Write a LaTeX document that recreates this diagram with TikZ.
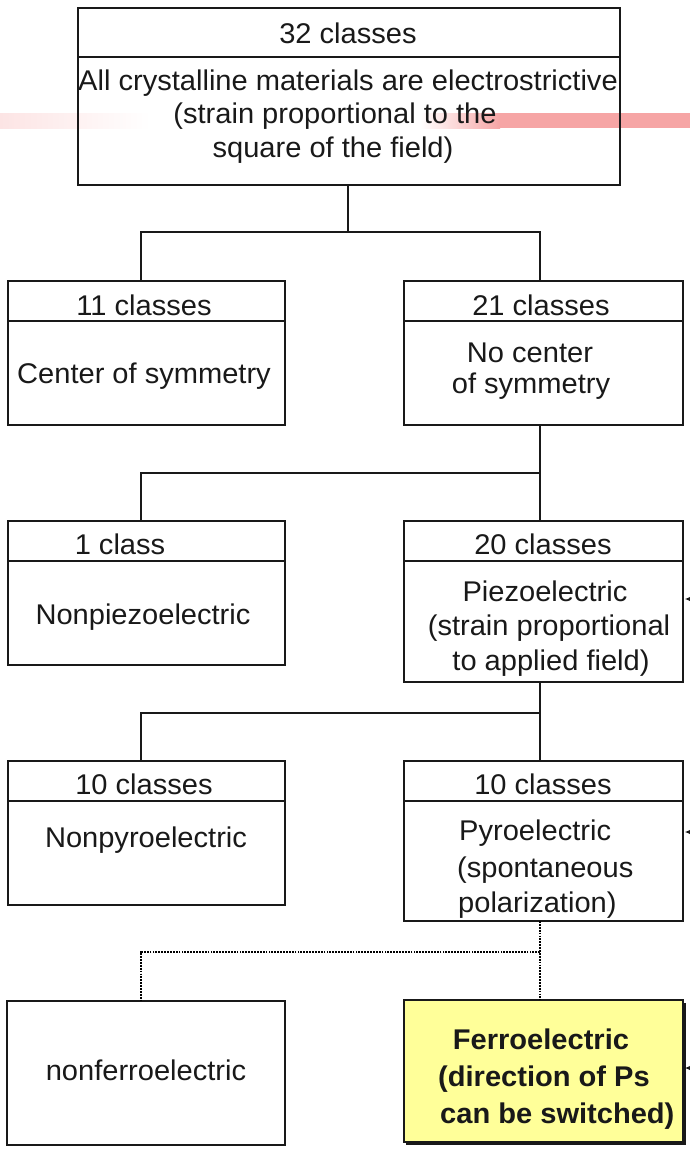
\documentclass[tikz,border=0pt]{standalone}
\usepackage{fontspec}
\setmainfont[FakeStretch=1.02]{Liberation Sans}
\usetikzlibrary{arrows.meta,calc}
\definecolor{bandpink}{RGB}{246,165,165}
\definecolor{ferro}{RGB}{255,255,153}
\definecolor{ink}{RGB}{25,25,25}
\begin{document}
\begin{tikzpicture}[x=1pt,y=-1pt,
  box/.style={draw=ink,line width=1.2pt,rectangle,inner sep=0pt,outer sep=0pt},
  txt/.style={anchor=base,inner sep=0pt,text=ink,font=\fontsize{28.5}{33}\selectfont},
  txtl/.style={txt,anchor=base west},
  btxt/.style={txt,font=\fontsize{28.5}{33}\selectfont\bfseries},
  btxtl/.style={btxt,anchor=base west},
  conn/.style={draw=ink,line width=1.3pt},
  dots/.style={draw=black,line width=1.9pt,dash pattern=on 1.8pt off 1.1pt},
  arr/.style={draw=ink,line width=1.2pt,-{Latex[length=9pt,width=9pt]}}]
\clip (0,0) rectangle (690,1152);
\fill[white] (0,0) rectangle (690,1152);
% pink band
\fill[left color=bandpink!30!white,right color=white] (0,113) rectangle (150,128);
\fill[left color=white,right color=bandpink] (420,113) rectangle (500,128);
\fill[bandpink] (499.5,113) rectangle (690,128);
% boxes
\node[box,minimum width=542pt,minimum height=177pt] (top) at (349,96.5) {};
\node[box,minimum width=277pt,minimum height=144pt] (b11) at (146.5,353) {};
\node[box,minimum width=279pt,minimum height=144pt] (b21) at (543.5,353) {};
\node[box,minimum width=277pt,minimum height=144pt] (b1) at (146.5,593) {};
\node[box,minimum width=279pt,minimum height=161pt] (b20) at (543.5,601.5) {};
\node[box,minimum width=277pt,minimum height=144pt] (b10l) at (146.5,833) {};
\node[box,minimum width=279pt,minimum height=160pt] (b10r) at (543.5,841) {};
\node[box,minimum width=278pt,minimum height=144pt] (bnf) at (146,1073) {};
\fill[ink] (406,1003) rectangle (685.5,1145);
\node[box,fill=ferro,line width=1.8pt,minimum width=279pt,minimum height=142pt] (bfe) at (543.5,1071) {};
% header dividers
\draw[conn,line width=1.2pt] ($(top.north west)+(0,49)$) -- ($(top.north east)+(0,49)$);
\foreach \b in {b11,b21,b1,b20,b10l,b10r}
  \draw[conn,line width=1.2pt] ($(\b.north west)+(0,40)$) -- ($(\b.north east)+(0,40)$);
% connector columns and junctions
\coordinate (cL) at (141,0);
\coordinate (cR) at (540,0);
\coordinate (j1) at (348,232);
\coordinate (j2) at (540,473);
\coordinate (j3) at (540,713);
\coordinate (j4) at (540,952);
\draw[conn] (top.south -| j1) -- (j1);
\draw[conn] (cL |- b11.north) -- (cL |- j1) -- (cR |- j1) -- (cR |- b21.north);
\draw[conn] (cR |- b21.south) -- (j2) -- (cR |- b20.north);
\draw[conn] (j2) -- (cL |- j2) -- (cL |- b1.north);
\draw[conn] (cR |- b20.south) -- (j3) -- (cR |- b10r.north);
\draw[conn] (j3) -- (cL |- j3) -- (cL |- b10l.north);
\draw[dots] (cR |- b10r.south) -- (j4) -- (cR |- bfe.north);
\draw[dots] (j4) -- (cL |- j4) -- (cL |- bnf.north);
% incoming arrows from the right
\coordinate (a1) at (730,599);
\coordinate (a2) at (730,832);
\coordinate (a3) at (730,1068);
\draw[arr] (a1) -- ([xshift=2pt,yshift=2.5pt]b20.east);
\draw[arr] (a2) -- ([xshift=2pt,yshift=9pt]b10r.east);
\draw[arr] (a3) -- ([xshift=2pt,yshift=3pt]bfe.east);
% texts
\node[txt] (t32) at (348,43.5) {32 classes};
\node[txt] (ta1) at (348,90) {All crystalline materials are electrostrictive};
\node[txt] (ta2) at (335,123.5) {(strain proportional to the};
\node[txt] (ta3) at (333,157) {square of the field)};
\node[txt] (t11) at (144,315) {11 classes};
\node[txt] (tcs) at (144,383) {Center of symmetry};
\node[txt] (t21) at (541,315) {21 classes};
\node[txt] (tnc1) at (530,362) {No center};
\node[txt] (tnc2) at (531,393) {of symmetry};
\node[txt] (t1c) at (120,554) {1 class};
\node[txt] (t20) at (543,554) {20 classes};
\node[txt] (tnp) at (143,624) {Nonpiezoelectric};
\node[txt] (tpz1) at (545,601) {Piezoelectric};
\node[txt] (tpz2) at (549,635) {(strain proportional};
\node[txt] (tpz3) at (551,670) {to applied field)};
\node[txt] (t10l) at (144,794) {10 classes};
\node[txt] (t10r) at (543,794) {10 classes};
\node[txt] (tnpy) at (146,847) {Nonpyroelectric};
\node[txtl] (tpy1) at (459,840) {Pyroelectric};
\node[txtl] (tpy2) at (457,877) {(spontaneous};
\node[txtl] (tpy3) at (458,912) {polarization)};
\node[txt] (tnf) at (146,1080) {nonferroelectric};
\node[btxt] (tfe1) at (541,1049) {Ferroelectric};
\node[btxtl] (tfe2) at (438,1086) {(direction of Ps};
\node[btxtl] (tfe3) at (440,1123) {can be switched)};
\end{tikzpicture}
\end{document}
